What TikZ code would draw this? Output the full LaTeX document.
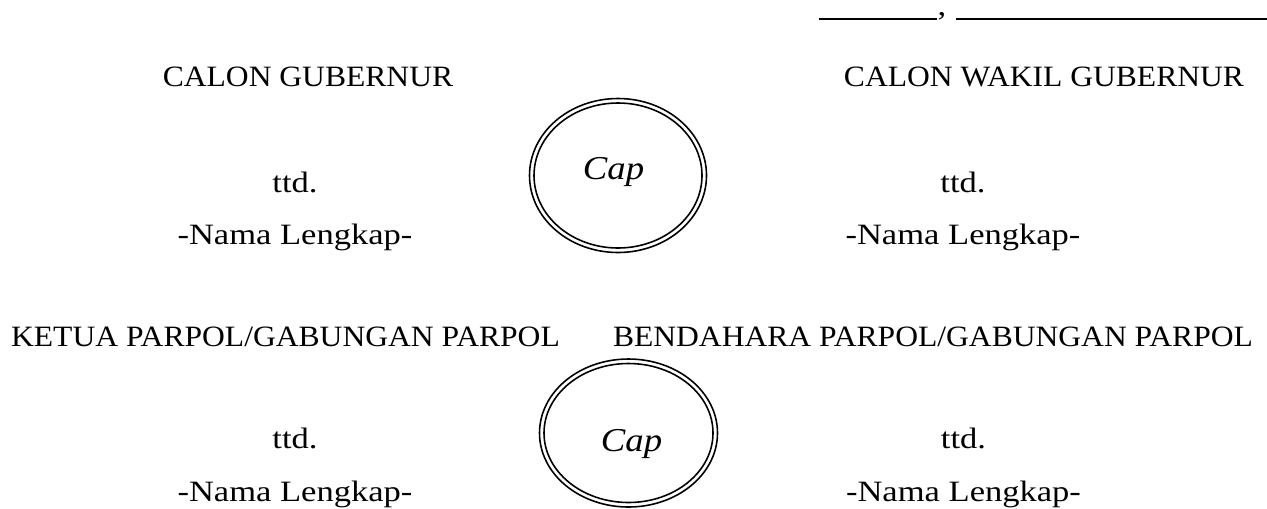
\documentclass[tikz,border=0pt]{standalone}
\usepackage{fontspec}
\setmainfont[FakeStretch=1.17]{Liberation Serif}
\newfontfamily\upperfont[FakeStretch=1.07]{Liberation Serif}
\newfontfamily\capfont[FakeStretch=1.1]{Liberation Serif Italic}
\tikzset{
  lbl/.style={inner sep=0pt,font=\fontsize{16.8pt}{20pt}\selectfont,text=black,anchor=base},
  head/.style={inner sep=0pt,font=\fontsize{16.8pt}{20pt}\upperfont,text=black,anchor=base},
  caplbl/.style={inner sep=0pt,font=\fontsize{19pt}{22pt}\capfont,anchor=base},
  rulel/.style={line width=1.1pt},
  ring/.style={line width=0.9pt,black}
}
\begin{document}
\begin{tikzpicture}[x=0.02cm,y=-0.02cm]
\useasboundingbox (0,0) rectangle (1267,508);
\fill[white] (0,0) rectangle (1267,508);
\coordinate (a1) at (819,19); \coordinate (a2) at (937,19);
\coordinate (b1) at (956,19); \coordinate (b2) at (1267,19);
\draw[rulel] (a1) -- (a2);
\draw[rulel] (b1) -- (b2);
\node[lbl] (comma) at (942,15) {,};
\node[head] (t1) at (308,86) {CALON GUBERNUR};
\node[head] (t2) at (1044,86) {CALON WAKIL GUBERNUR};
\node[lbl] (t3) at (295,192) {ttd.};
\node[lbl] (t4) at (963,192) {ttd.};
\node[lbl] (t5) at (295,244.5) {-Nama Lengkap-};
\node[lbl] (t6) at (963,244.5) {-Nama Lengkap-};
\node[head] (t7) at (285.5,346.5) {KETUA PARPOL/GABUNGAN PARPOL};
\node[head] (t8) at (933,346.5) {BENDAHARA PARPOL/GABUNGAN PARPOL};
\node[lbl] (t9) at (295,448) {ttd.};
\node[lbl] (t10) at (963.5,448) {ttd.};
\node[lbl] (t11) at (295,501.5) {-Nama Lengkap-};
\node[lbl] (t12) at (963.5,501.5) {-Nama Lengkap-};
\begin{scope}
\clip (0,0) rectangle (1267,508);
\draw[ring] (618,175.5) ellipse [x radius=88.5,y radius=77];
\draw[ring] (618,175.5) ellipse [x radius=84,y radius=72.5];
\draw[ring] (628.5,433) ellipse [x radius=89,y radius=74];
\draw[ring] (628.5,433) ellipse [x radius=84.5,y radius=69.5];
\end{scope}
\node[caplbl] (c1) at (613.5,179) {Cap};
\node[caplbl] (c2) at (631.5,451) {Cap};
\end{tikzpicture}
\end{document}
